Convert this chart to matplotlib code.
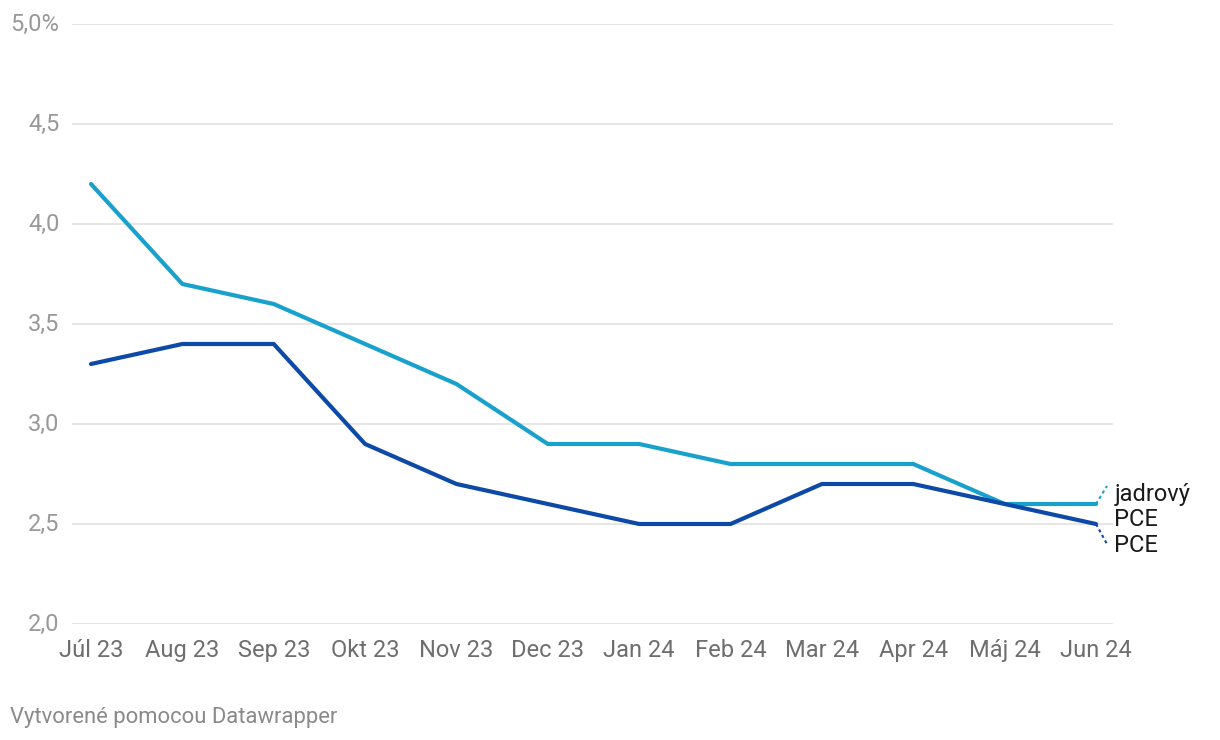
import matplotlib
matplotlib.use("Agg")
import matplotlib.pyplot as plt
import numpy as np

plt.rcParams['font.family'] = ['Roboto', 'DejaVu Sans']

months = ["Júl 23", "Aug 23", "Sep 23", "Okt 23", "Nov 23", "Dec 23",
          "Jan 24", "Feb 24", "Mar 24", "Apr 24", "Máj 24", "Jun 24"]
core_pce = [4.2, 3.7, 3.6, 3.4, 3.2, 2.9, 2.9, 2.8, 2.8, 2.8, 2.6, 2.6]
pce = [3.3, 3.4, 3.4, 2.9, 2.7, 2.6, 2.5, 2.5, 2.7, 2.7, 2.6, 2.5]
yticks = [2.0, 2.5, 3.0, 3.5, 4.0, 4.5, 5.0]
ytick_labels = ["2,0", "2,5", "3,0", "3,5", "4,0", "4,5", "5,0%"]

light = "#19a1cd"
dark = "#0d4aa8"

fig = plt.figure(figsize=(12.2, 7.4), dpi=100)
W, H = 1220, 740
left, right, top, bottom = 72, 1113, 24, 624
ax = fig.add_axes([left / W, 1 - bottom / H, (right - left) / W, (bottom - top) / H])

x = np.arange(len(months))
ax.set_xlim(-19 / 91.36, 11 + 17 / 91.36)
ax.set_ylim(2.0, 5.0)

for y in yticks:
    ax.axhline(y, color="#e2e2e2", lw=1.2, zorder=0)

ax.plot(x, core_pce, color=light, lw=3, solid_joinstyle="round", solid_capstyle="round", zorder=3)
ax.plot(x, pce, color=dark, lw=3, solid_joinstyle="round", solid_capstyle="round", zorder=3)

for s in ax.spines.values():
    s.set_visible(False)
ax.set_yticks(yticks)
ax.set_yticklabels(ytick_labels)
ax.set_xticks(x)
ax.set_xticklabels(months)
ax.tick_params(axis="y", length=0, pad=9, labelsize=17, labelcolor="#999999")
ax.tick_params(axis="x", length=0, pad=11, labelsize=17, labelcolor="#6e6e6e")
for lbl in ax.get_yticklabels():
    lbl.set_va("center")

# end labels with dotted connectors
xe = x[-1]
ax.plot([xe, xe + 0.12], [core_pce[-1], core_pce[-1] + 0.09], color=light, lw=1.5,
        ls=(0, (1.5, 1.5)), clip_on=False, zorder=3)
ax.plot([xe, xe + 0.12], [pce[-1], pce[-1] - 0.1], color=dark, lw=1.5,
        ls=(0, (1.5, 1.5)), clip_on=False, zorder=3)
ax.text(xe + 0.2, core_pce[-1] - 0.015, "jadrový\nPCE", fontsize=17, color="#1a1a1a",
        ha="left", va="center", linespacing=1.12, clip_on=False)
ax.text(xe + 0.2, pce[-1] - 0.105, "PCE", fontsize=17, color="#1a1a1a",
        ha="left", va="center", clip_on=False)

fig.text(10 / W, 1 - 717 / H, "Vytvorené pomocou Datawrapper", fontsize=15.8,
         color="#8a8a8a", ha="left", va="center")

fig.savefig("out.png", dpi=100)
